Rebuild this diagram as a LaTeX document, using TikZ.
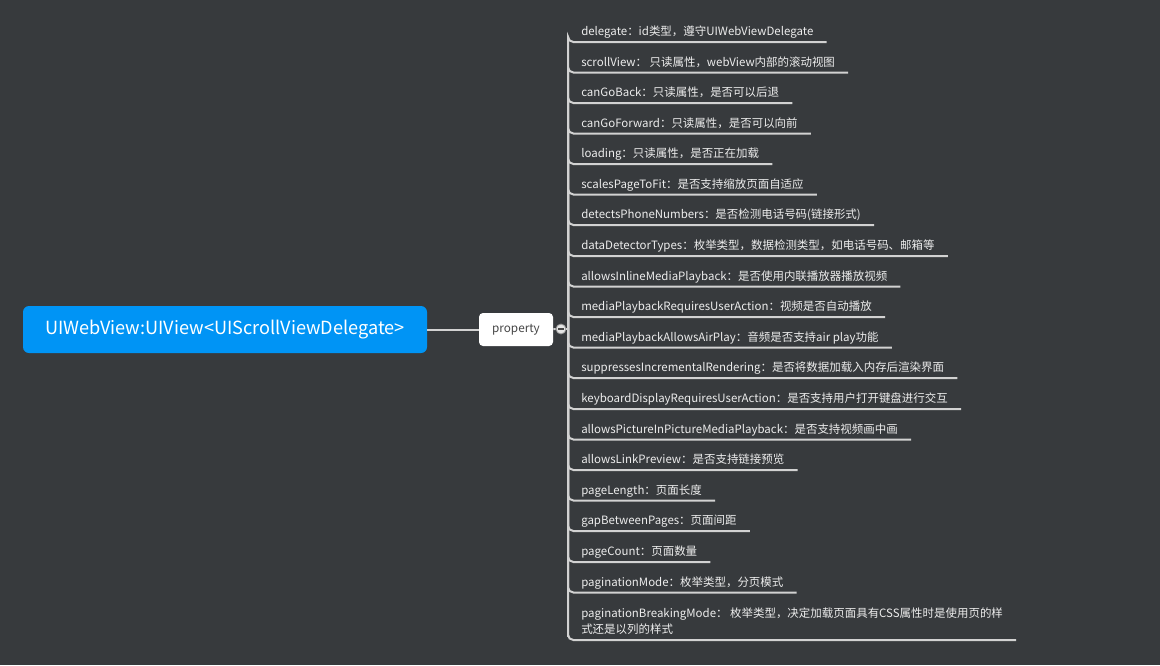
\documentclass[tikz,border=0pt]{standalone}
\usepackage{fontspec}
\setmainfont{Noto Sans CJK SC}

\definecolor{sfondo}{RGB}{55,58,61}
\definecolor{blu}{RGB}{0,148,245}
\definecolor{linea}{RGB}{210,210,210}
\definecolor{grigio}{RGB}{70,70,70}

\begin{document}
\begin{tikzpicture}[x=0.75pt, y=-0.75pt,
    radice/.style={fill=blu, rounded corners=4.5pt, minimum width=303pt, minimum height=35.25pt, text=white, font=\fontsize{13.6}{16}\selectfont},
    prop/.style={fill=white, rounded corners=3pt, minimum width=55.5pt, minimum height=24.75pt, text=grigio, font=\fontsize{8.8}{10}\selectfont},
    piega/.style={circle, fill=white!90!black, draw=linea!70!black, line width=0.6pt, minimum size=7.5pt, inner sep=0pt},
    voce/.style={anchor=south west, inner xsep=9.75pt, inner ysep=2.4pt, text height=0.8em, text depth=0.2em, text=white!93!black, align=left, font=\fontsize{8.6}{12}\selectfont},
    ramo/.style={draw=linea, line width=1.5pt, rounded corners=4pt}]
        % Sfondo
        \fill[sfondo] (0,0) rectangle (1160,665);
        \useasboundingbox (0,0) rectangle (1160,665);

        % Nodi centrali
        \node[radice] (root) at (225,329.5) {UIWebView:UIView<UIScrollViewDelegate>};
        \node[prop] (property) at (516,329.5) {property};
        \coordinate (trunk) at (568,329);

        % Voci
        \node[voce] (delegate) at (568,42) {delegate：id类型，遵守UIWebViewDelegate};
        \node[voce] (scrollView) at (568,72.5) {scrollView： 只读属性，webView内部的滚动视图};
        \node[voce] (canGoBack) at (568,103) {canGoBack：只读属性，是否可以后退};
        \node[voce] (canGoForward) at (568,133.5) {canGoForward：只读属性，是否可以向前};
        \node[voce] (loading) at (568,164) {loading：只读属性，是否正在加载};
        \node[voce] (scalesPageToFit) at (568,194.5) {scalesPageToFit：是否支持缩放页面自适应};
        \node[voce] (detectsPhoneNumbers) at (568,225) {detectsPhoneNumbers：是否检测电话号码(链接形式)};
        \node[voce] (dataDetectorTypes) at (568,256) {dataDetectorTypes：枚举类型，数据检测类型，如电话号码、邮箱等};
        \node[voce] (allowsInline) at (568,286.5) {allowsInlineMediaPlayback：是否使用内联播放器播放视频};
        \node[voce] (requiresAction) at (568,317) {mediaPlaybackRequiresUserAction：视频是否自动播放};
        \node[voce] (airPlay) at (568,347.5) {mediaPlaybackAllowsAirPlay：音频是否支持air play功能};
        \node[voce] (suppresses) at (568,378) {suppressesIncrementalRendering：是否将数据加载入内存后渲染界面};
        \node[voce] (keyboard) at (568,409) {keyboardDisplayRequiresUserAction：是否支持用户打开键盘进行交互};
        \node[voce] (pictureInPicture) at (568,439.5) {allowsPictureInPictureMediaPlayback：是否支持视频画中画};
        \node[voce] (linkPreview) at (568,470) {allowsLinkPreview：是否支持链接预览};
        \node[voce] (pageLength) at (568,500.5) {pageLength：页面长度};
        \node[voce] (gapBetweenPages) at (568,531) {gapBetweenPages：页面间距};
        \node[voce] (pageCount) at (568,562) {pageCount：页面数量};
        \node[voce] (paginationMode) at (568,592.5) {paginationMode：枚举类型，分页模式};
        \node[voce] (breakingMode) at (568,640) {paginationBreakingMode： 枚举类型，决定加载页面具有CSS属性时是使用页的样\\式还是以列的样式};

        % Rami
        \draw[ramo] (trunk) |- (delegate.south west) -- (delegate.south east);
        \draw[ramo] (trunk) |- (scrollView.south west) -- (scrollView.south east);
        \draw[ramo] (trunk) |- (canGoBack.south west) -- (canGoBack.south east);
        \draw[ramo] (trunk) |- (canGoForward.south west) -- (canGoForward.south east);
        \draw[ramo] (trunk) |- (loading.south west) -- (loading.south east);
        \draw[ramo] (trunk) |- (scalesPageToFit.south west) -- (scalesPageToFit.south east);
        \draw[ramo] (trunk) |- (detectsPhoneNumbers.south west) -- (detectsPhoneNumbers.south east);
        \draw[ramo] (trunk) |- (dataDetectorTypes.south west) -- (dataDetectorTypes.south east);
        \draw[ramo] (trunk) |- (allowsInline.south west) -- (allowsInline.south east);
        \draw[ramo] (trunk) |- (requiresAction.south west) -- (requiresAction.south east);
        \draw[ramo] (trunk) |- (airPlay.south west) -- (airPlay.south east);
        \draw[ramo] (trunk) |- (suppresses.south west) -- (suppresses.south east);
        \draw[ramo] (trunk) |- (keyboard.south west) -- (keyboard.south east);
        \draw[ramo] (trunk) |- (pictureInPicture.south west) -- (pictureInPicture.south east);
        \draw[ramo] (trunk) |- (linkPreview.south west) -- (linkPreview.south east);
        \draw[ramo] (trunk) |- (pageLength.south west) -- (pageLength.south east);
        \draw[ramo] (trunk) |- (gapBetweenPages.south west) -- (gapBetweenPages.south east);
        \draw[ramo] (trunk) |- (pageCount.south west) -- (pageCount.south east);
        \draw[ramo] (trunk) |- (paginationMode.south west) -- (paginationMode.south east);
        \draw[ramo] (trunk) |- (breakingMode.south west) -- (breakingMode.south east);

        % Collegamenti centrali
        \draw[ramo] (root) -- (property);
        \node[piega] (fold) at (561,329) {};
        \draw[ramo] (property) -- (fold);
        \draw[ramo] (fold) -- (trunk);
        \draw[grigio, line width=0.8pt] ([xshift=-2.2pt]fold.center) -- ([xshift=2.2pt]fold.center);
      \end{tikzpicture}
\end{document}
